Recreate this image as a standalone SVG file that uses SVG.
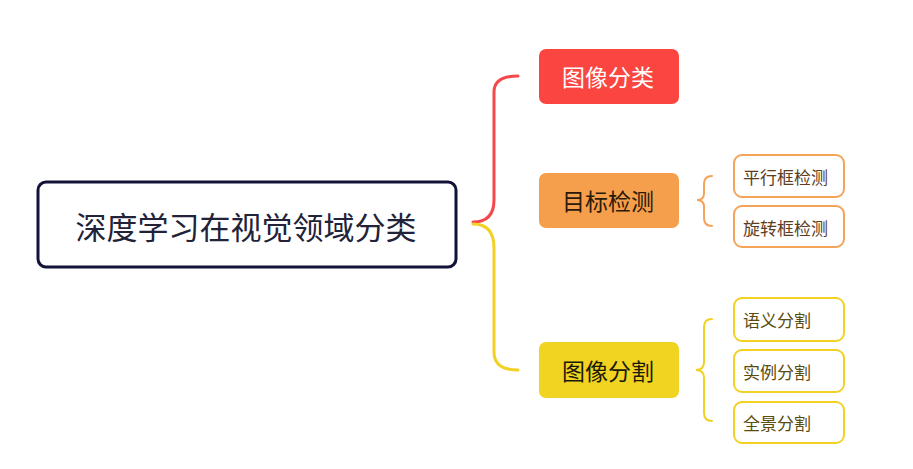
<svg xmlns="http://www.w3.org/2000/svg" width="913" height="469" viewBox="0 0 913 469">
<style>
text{font-family:"Noto Sans CJK SC","Noto Sans",sans-serif;}
.main{fill:#fff;stroke:#13133a;stroke-width:3;}
.l1{font-size:23px;text-anchor:middle;dominant-baseline:central;}
.sub{fill:#fff;stroke-width:2;}
.st{font-size:17px;dominant-baseline:central;}
.c{fill:none;stroke-width:3;stroke-linecap:round;}
.b{fill:none;stroke-width:2;stroke-linecap:round;}
</style>
<rect width="913" height="469" fill="#fff"/>
<g id="connectors">
<path class="c" stroke="#f4484a" d="M473,222 Q494,222 494,200 L494,92 Q494,76 518,76"/>
<path class="c" stroke="#f2d125" d="M473,224 Q494,224 494,248 L494,352 Q494,370 518,370"/>
<path class="b" stroke="#f5a35a" d="M712,176 Q704,176 704,184 L704,193 Q704,200 697,200 Q704,200 704,207 L704,218 Q704,226 712,226"/>
<path class="b" stroke="#f2d125" d="M712,319 Q704,319 704,327 L704,362 Q704,370 696,370 Q704,370 704,378 L704,413 Q704,421 712,421"/>
</g>
<g id="root">
<rect class="main" x="38" y="182" width="418" height="85" rx="8"/>
<text x="246" y="225" font-size="31" text-anchor="middle" dominant-baseline="central" fill="#222238">深度学习在视觉领域分类</text>
</g>
<g id="n-cls">
<rect x="539" y="49" width="140" height="55" rx="7" fill="#fa4540"/>
<text class="l1" x="608" y="76" fill="#fff">图像分类</text>
</g>
<g id="n-det">
<rect x="539" y="173" width="140" height="55" rx="7" fill="#f59e4b"/>
<text class="l1" x="608" y="200" fill="#2a1a0a">目标检测</text>
</g>
<g id="n-seg">
<rect x="539" y="342" width="140" height="56" rx="7" fill="#f1d321"/>
<text class="l1" x="608" y="370" fill="#1a1a0a">图像分割</text>
</g>
<g id="n-det1">
<rect class="sub" stroke="#f5a35a" x="734" y="155" width="110" height="42" rx="8"/>
<text class="st" x="743" y="176" fill="#5c3d1e">平行框检测</text>
</g>
<g id="n-det2">
<rect class="sub" stroke="#f5a35a" x="734" y="206" width="110" height="41" rx="8"/>
<text class="st" x="743" y="227" fill="#5c3d1e">旋转框检测</text>
</g>
<g id="n-seg1">
<rect class="sub" stroke="#f2d125" x="734" y="298" width="110" height="43" rx="8"/>
<text class="st" x="743" y="319" fill="#5a4b0e">语义分割</text>
</g>
<g id="n-seg2">
<rect class="sub" stroke="#f2d125" x="734" y="350" width="110" height="42" rx="8"/>
<text class="st" x="743" y="371" fill="#5a4b0e">实例分割</text>
</g>
<g id="n-seg3">
<rect class="sub" stroke="#f2d125" x="734" y="402" width="110" height="41" rx="8"/>
<text class="st" x="743" y="422" fill="#5a4b0e">全景分割</text>
</g>
</svg>
